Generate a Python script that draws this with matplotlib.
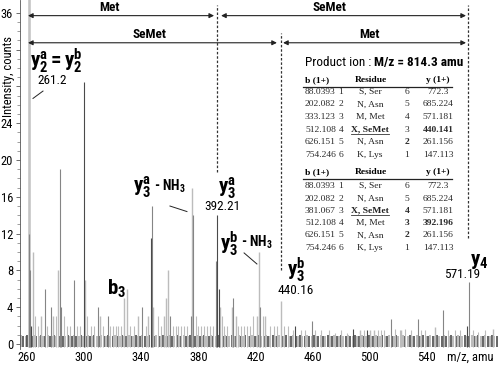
#!/usr/bin/env python3

import matplotlib
matplotlib.use("Agg")
import matplotlib.pyplot as plt
from matplotlib import font_manager

# ---- data (m/z, intensity counts) ----
light_mz = [261.2, 264.5, 270, 278, 281.8, 300.8, 311, 327.8, 329.8, 338, 345, 348.5,
            356, 357.5, 358.5, 375.8, 395, 403.5, 406, 421, 422.7, 427, 437.7, 493,
            500, 503, 522, 545.7, 586]
light_int = [38, 10, 3, 3, 8, 7, 3, 5, 6, 3, 3, 4,
             3, 5, 8, 17, 4, 4, 3, 3, 10, 3, 4.7, 1.5,
             1.5, 1.5, 1.5, 1.8, 1.6]

mid_mz = [261.6, 262.2, 272.5, 276.5, 282.8, 284, 292.8, 309.8, 316.5, 340.5, 347.8,
          360, 374.5, 376.3, 392.3, 404.5, 423.5, 459.3, 515, 533.6, 551, 569.5]
mid_int = [12, 8, 6, 4, 19, 4, 7, 4, 3, 4, 15,
           3, 3, 14, 9, 5, 4, 2.5, 2.7, 2.7, 3.7, 6.7]

dark_mz = [263, 300, 346.8, 393.3, 394.3, 448, 488, 498, 568]
dark_int = [2, 28.5, 11.5, 14, 6, 2, 1.6, 1.5, 2]

# small noise peaks
noise_mz = [265.5, 268, 274, 280, 286, 288, 290, 295, 297, 302, 305, 307, 313, 318, 320,
            322, 324, 326, 332, 335, 343, 352, 354, 362, 364, 366, 368, 370, 372, 378,
            380, 382, 384, 386, 388, 390.5, 396.5, 398, 400, 408, 410, 412, 414, 416,
            418, 425, 430, 433, 435, 440, 443, 446, 452, 455, 462, 466, 471.5, 476, 480,
            484, 496, 506, 508, 510, 518, 521, 525, 529, 536, 539, 555, 560, 563, 572,
            576, 581]
noise_int = [3, 2, 2, 3, 3, 2, 2, 2, 2, 3, 2, 2, 2, 2, 2,
             2, 2, 2, 2, 2, 2, 3, 2, 2, 2, 2, 2, 2, 2, 3,
             2, 2, 2, 2, 2, 2, 3, 2, 2, 2, 2, 2, 2, 2,
             3, 3, 2, 2, 2, 2, 2, 1.5, 1.5, 1.5, 1.5, 1.5, 1.5, 1.2, 1.5,
             1.2, 1.5, 1.5, 1.5, 1.5, 1.6, 1.5, 1.6, 1.5, 1.5, 1.5, 1.5, 1.5, 1.5, 1.5,
             1.3, 1.5]

# baseline chatter
base_mz = [256, 257.4, 259.1, 260.3, 261.9, 263.6, 265.1, 266.4, 268.2, 269.6, 271.1, 272.9,
           274.6, 275.8, 277.6, 279.1, 280.4, 282.1, 283.6, 285.2, 286.9, 288.4, 290.1,
           291.6, 293.2, 294.4, 296.1, 297.9, 299.4, 301.2, 302.6, 303.9, 305.6, 307.2,
           308.8, 310.4, 312.1, 313.7, 315.2, 316.8, 318.4, 320.1, 321.4, 323.2, 324.8,
           326.3, 328.1, 329.4, 331.2, 332.8, 334.3, 336.1, 337.6, 339.2, 340.8, 342.4,
           344.1, 345.6, 347.2, 348.9, 350.4, 352.1, 353.7, 355.2, 356.8, 358.4, 360.1,
           361.6, 363.2, 364.9, 366.4, 368.1, 369.6, 371.3, 372.8, 374.4, 376.1, 377.7,
           379.2, 380.9, 382.4, 384.1, 385.6, 387.3, 388.8, 390.4, 392.1, 393.7, 395.3,
           396.9, 398.4, 400.1, 401.7, 403.2, 404.9, 406.5, 408.1, 409.6, 411.3, 412.8,
           414.4, 416.1, 417.6, 419.3, 420.8, 422.4, 424.1, 425.7, 427.2, 428.9, 430.4,
           432.1, 433.6, 435.3, 436.8, 438.5, 440.1, 441.6, 443.3, 444.8, 446.5, 448.1,
           449.6, 451.2, 452.9, 454.4, 456.1, 457.6, 459.3, 460.8, 462.5, 464.1, 465.6,
           467.3, 468.8, 470.5, 472.1, 473.6, 475.3, 476.8, 478.5, 480.1, 481.6, 483.3,
           484.8, 486.5, 488.1, 489.6, 491.3, 492.8, 494.5, 496.1, 497.6, 499.3, 500.8,
           502.5, 504.1, 505.6, 507.3, 508.8, 510.5, 512.1, 513.6, 515.3, 516.8, 518.5,
           520.1, 521.6, 523.3, 524.8, 526.5, 528.1, 529.6, 531.3, 532.8, 534.5, 536.1,
           537.6, 539.3, 540.8, 542.5, 544.1, 545.6, 547.3, 548.8, 550.5, 552.1, 553.6,
           555.3, 556.8, 558.5, 560.1, 561.6, 563.3, 564.8, 566.5, 568.1, 569.6, 571.3,
           572.8, 574.5, 576.1, 577.6, 579.3, 580.8, 582.5, 584.1, 585.6, 587.3, 588.8]

# peak labels: (text, m/z, intensity)
ion_labels = [
    (r"$\mathbf{y^a_2 = y^b_2}$", 262.1, 30.8),
    (r"$\mathbf{y^a_3}$", 393.6, 16.9),
    (r"$\mathbf{y^b_3}$", 441.8, 8.1),
    (r"$\mathbf{b_3}$", 315.8, 6.0),
    (r"$\mathbf{y_4}$", 570.0, 9.0),
]
nh3_labels = [
    (r"$\mathbf{y^a_3}$", 334.0, 17.0),
    (r"$\mathbf{y^b_3}$", 395.0, 10.9),
]
mass_labels = [("261.2", 267.0, 28.6), ("392.21", 396.6, 15.0),
               ("440.16", 448.2, 5.8), ("571.19", 564.8, 7.6)]

# fragment tables
b_ions_a = ["88.0393", "202.082", "333.123", "512.108", "626.151", "754.246"]
residues_a = ["S, Ser", "N, Asn", "M, Met", "X, SeMet", "N, Asn", "K, Lys"]
y_ions_a = ["772.3", "685.224", "571.181", "440.141", "261.156", "147.113"]
b_ions_b = ["88.0393", "202.082", "381.067", "512.108", "626.151", "754.246"]
residues_b = ["S, Ser", "N, Asn", "X, SeMet", "M, Met", "N, Asn", "K, Lys"]
y_ions_b = ["772.3", "685.224", "571.181", "392.196", "261.156", "147.113"]
b_index = ["1", "2", "3", "4", "5", "6"]
y_index = ["6", "5", "4", "3", "2", "1"]


def pick_sans():
    for name in ["Liberation Sans Narrow", "Roboto Condensed", "Open Sans Condensed",
                 "DejaVu Sans Condensed", "Noto Sans Condensed"]:
        try:
            font_manager.findfont(name, fallback_to_default=False)
            return name, "normal"
        except ValueError:
            pass
    f = font_manager.findfont(font_manager.FontProperties(family="DejaVu Sans", stretch="condensed"))
    if "ondensed" in f:
        return "DejaVu Sans", "condensed"
    return "Liberation Sans", "normal"


SANS, STRETCH = pick_sans()
SERIF = "Liberation Serif"
plt.rcParams["font.family"] = [SANS, "DejaVu Sans"]
plt.rcParams["font.stretch"] = STRETCH
plt.rcParams["mathtext.fontset"] = "custom"
plt.rcParams["mathtext.rm"] = SANS
plt.rcParams["mathtext.bf"] = SANS + ":bold"
plt.rcParams["mathtext.it"] = SANS + ":italic"

W, H = 498, 365
fig = plt.figure(figsize=(W / 100, H / 100), dpi=100)
ax = fig.add_axes([20 / W, (H - 348.6) / H, 478 / W, 348.6 / H])
ax.set_xlim(255.1, 589.8)
ax.set_ylim(-0.5, 37.4)

base = -0.35
base_h = [0.85 if i % 3 else 1.0 for i in range(len(base_mz))]
ax.vlines(base_mz, base, base_h, colors=["#3c3c3c" if i % 2 else "#a8a8a8" for i in range(len(base_mz))],
          linewidth=1.1)
ax.vlines(noise_mz, base, noise_int, colors="#bdbdbd", linewidth=0.8)
ax.vlines(light_mz, base, light_int, colors="#bcbcbc", linewidth=1.0)
ax.vlines(light_mz[:1], base, light_int[:1], colors="#c4c4c4", linewidth=1.8)
ax.vlines(mid_mz, base, mid_int, colors="#858585", linewidth=0.8)
ax.vlines(dark_mz, base, dark_int, colors="#4a4a4a", linewidth=0.8)

# axes styling
for s in ["top", "right", "bottom"]:
    ax.spines[s].set_visible(False)
ax.spines["left"].set_color("#555555")
ax.spines["left"].set_linewidth(0.6)
ax.set_xticks([260, 300, 340, 380, 420, 460, 500, 540])
ax.tick_params(axis="x", length=0, pad=2, labelsize=9)
yt = [0, 4, 8, 12, 16, 20, 24, 28, 32, 36]
ax.set_yticks(yt)
ax.set_yticklabels([str(v) if v not in (28, 32) else "" for v in yt])
ax.set_yticks(range(0, 37), minor=True)
ax.tick_params(axis="y", which="major", length=3, width=0.6, color="#555555", pad=2, labelsize=9)
ax.tick_params(axis="y", which="minor", length=2, width=0.5, color="#777777")
ax.set_ylabel("Intensity, counts", fontsize=9)
ax.yaxis.set_label_coords(-0.011, 0.78)
ax.text(570.2, -1.4, "m/z, amu", fontsize=9, ha="center", va="center", clip_on=False)

# region arrows
arrow = dict(arrowstyle="<|-|>", lw=0.8, color="#222222", mutation_scale=7, shrinkA=0, shrinkB=0)
ax.annotate("", xy=(391.0, 35.7), xytext=(260.7, 35.7), arrowprops=arrow)
ax.annotate("", xy=(567.4, 35.7), xytext=(395.9, 35.7), arrowprops=arrow)
ax.annotate("", xy=(435.0, 32.75), xytext=(260.7, 32.75), arrowprops=arrow)
ax.annotate("", xy=(567.4, 32.75), xytext=(439.3, 32.75), arrowprops=arrow)
ax.text(318, 36.6, "Met", fontsize=9.5, fontweight="bold", ha="center", va="center")
ax.text(472, 36.6, "SeMet", fontsize=9.5, fontweight="bold", ha="center", va="center")
ax.text(346, 33.6, "SeMet", fontsize=9.5, fontweight="bold", ha="center", va="center")
ax.text(500, 33.6, "Met", fontsize=9.5, fontweight="bold", ha="center", va="center")
dots = (0, (2, 1.5))
ax.vlines([393.05], 18.7, 36.9, colors="#333333", linestyles=dots, linewidth=0.9)
ax.vlines([437.7], 8.05, 33.8, colors="#333333", linestyles=dots, linewidth=0.9)
ax.vlines([568.8], 11.5, 36.9, colors="#333333", linestyles=dots, linewidth=0.9)

# ion labels
for txt, x, y in ion_labels:
    ax.text(x, y, txt, fontsize=15, ha="left", va="center")
for big, x, y in nh3_labels:
    t = ax.text(x, y, big, fontsize=15, ha="left", va="center")
    ax.annotate(r"- $\mathbf{NH_3}$", xy=(1, 0.5), xycoords=t, xytext=(2, 1), textcoords="offset points",
                fontsize=10, fontweight="bold", ha="left", va="center")
for txt, x, y in mass_labels:
    ha = "left" if txt == "261.2" else "center"
    ax.text(x, y, txt, fontsize=9.5, ha=ha, va="center")
ax.plot([264.2, 271.2], [26.7, 27.5], color="#222222", lw=0.7)
ax.plot([360.1, 372.0], [15.0, 14.4], color="#222222", lw=0.7)
ax.plot([412.0, 421.0], [9.9, 8.7], color="#222222", lw=0.7)


# product ion tables (pixel positions)
def px(x, y):
    return x / W, 1 - y / H


t = fig.text(*px(305, 62.5), "Product ion : ", fontsize=9.5, va="center")
fig.text(*px(306, 62.5), "M/z = 814.3 amu", fontsize=9.5, fontweight="bold", va="center")
fig.canvas.draw()
fig.texts[-1].set_x(t.get_window_extent().x1 / W)

cols_x = [305, 341, 370, 407, 438]


def draw_table(top, rows_y, b_vals, res_vals, y_vals, bold_res, bold_yidx, bold_y):
    kw = dict(family=SERIF, fontsize=6.8, va="center")
    fig.text(*px(305, top), "b (1+)", fontweight="bold", ha="left", **kw)
    fig.text(*px(371, top), "Residue", fontweight="bold", ha="center", **kw)
    fig.text(*px(438, top), "y (1+)", fontweight="bold", ha="center", **kw)
    fig.add_artist(plt.Line2D([303 / W, 452 / W], [1 - (top + 6) / H] * 2, color="#222222", lw=0.9))
    for i, yy in enumerate(rows_y):
        fig.text(*px(cols_x[0], yy), b_vals[i], ha="left", color="#2a2a2a", **kw)
        fig.text(*px(cols_x[1], yy), b_index[i], ha="center", color="#2a2a2a", **kw)
        rw = "bold" if i == bold_res else "normal"
        r = fig.text(*px(cols_x[2], yy), res_vals[i], ha="center", fontweight=rw, color="#222222", **kw)
        if i == bold_res:
            fig.canvas.draw()
            bb = r.get_window_extent()
            fig.add_artist(plt.Line2D([bb.x0 / W, bb.x1 / W], [(bb.y0 - 0.5) / H] * 2,
                                      color="#333333", lw=0.6))
        iw = "bold" if i in bold_yidx else "normal"
        fig.text(*px(cols_x[3], yy), y_index[i], ha="center", fontweight=iw, color="#2a2a2a", **kw)
        yw = "bold" if i == bold_y else "normal"
        fig.text(*px(cols_x[4], yy), y_vals[i], ha="center", fontweight=yw, color="#2a2a2a", **kw)


draw_table(80.5, [92, 104.5, 117, 129.7, 142.3, 155], b_ions_a, residues_a, y_ions_a, 3, [4], 3)
draw_table(172.5, [186, 198.5, 210.8, 223, 235.5, 248], b_ions_b, residues_b, y_ions_b, 2, [2, 3, 4], 3)

fig.savefig("out.png", dpi=100)
